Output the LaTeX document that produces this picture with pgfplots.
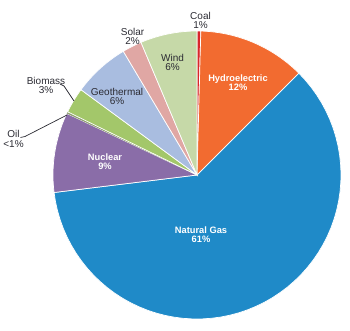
\documentclass[border=0pt]{standalone}
\usepackage{pgfplots}
\pgfplotsset{compat=1.18}
\usepackage{fontspec}
\setmainfont{Liberation Sans}
\definecolor{cCoal}{HTML}{D9262B}
\definecolor{cHydro}{HTML}{F26B30}
\definecolor{cGas}{HTML}{1F8AC8}
\definecolor{cNuc}{HTML}{8A6DA8}
\definecolor{cOil}{HTML}{8FA070}
\definecolor{cBio}{HTML}{A3C76A}
\definecolor{cGeo}{HTML}{A9BDE0}
\definecolor{cSol}{HTML}{E0A7A4}
\definecolor{cWind}{HTML}{C6D9A8}
\definecolor{txt}{HTML}{2B2B33}
% shares in percent, clockwise from 12 o'clock
\def\vCoal{0.42}
\def\vHydro{12.08}
\def\vGas{60.56}
\def\vNuc{8.97}
\def\vOil{0.20}
\def\vBio{2.86}
\def\vGeo{6.36}
\def\vSol{2.19}
\def\vWind{6.36}
\begin{document}
\begin{tikzpicture}[
  lbl/.style={font=\fontsize{10}{9.3}\selectfont, align=center, text=txt},
  wlbl/.style={font=\bfseries\fontsize{9.3}{9.3}\selectfont, align=center, text=white},
]
\pgfmathsetmacro\aA{90}
\pgfmathsetmacro\aB{\aA-3.6*\vCoal}
\pgfmathsetmacro\aC{\aB-3.6*\vHydro}
\pgfmathsetmacro\aD{\aC-3.6*\vGas}
\pgfmathsetmacro\aE{\aD-3.6*\vNuc}
\pgfmathsetmacro\aF{\aE-3.6*\vOil}
\pgfmathsetmacro\aG{\aF-3.6*\vBio}
\pgfmathsetmacro\aH{\aG-3.6*\vGeo}
\pgfmathsetmacro\aI{\aH-3.6*\vSol}
\pgfmathsetmacro\aJ{\aI-3.6*\vWind}
\begin{axis}[
  hide axis, x=1pt, y=1pt,
  xmin=-197, xmax=153, ymin=-155, ymax=175,
  clip=false,
  every axis plot/.append style={draw=white, line width=0.7pt, samples=60, variable=\t},
]
\path (axis cs:-197,-155) rectangle (axis cs:153,175);
\addplot[fill=cCoal, domain=\aB:\aA] ({144*cos(\t)},{144*sin(\t)}) -- (axis cs:0,0) -- cycle;
\addplot[fill=cHydro, domain=\aC:\aB] ({144*cos(\t)},{144*sin(\t)}) -- (axis cs:0,0) -- cycle;
\addplot[fill=cGas, domain=\aD:\aC] ({144*cos(\t)},{144*sin(\t)}) -- (axis cs:0,0) -- cycle;
\addplot[fill=cNuc, domain=\aE:\aD] ({144*cos(\t)},{144*sin(\t)}) -- (axis cs:0,0) -- cycle;
\addplot[fill=cOil, draw=none, domain=\aF:\aE] ({144*cos(\t)},{144*sin(\t)}) -- (axis cs:0,0) -- cycle;
\addplot[fill=cBio, domain=\aG:\aF] ({144*cos(\t)},{144*sin(\t)}) -- (axis cs:0,0) -- cycle;
\addplot[fill=cGeo, domain=\aH:\aG] ({144*cos(\t)},{144*sin(\t)}) -- (axis cs:0,0) -- cycle;
\addplot[fill=cSol, domain=\aI:\aH] ({144*cos(\t)},{144*sin(\t)}) -- (axis cs:0,0) -- cycle;
\addplot[fill=cWind, domain=\aJ:\aI] ({144*cos(\t)},{144*sin(\t)}) -- (axis cs:0,0) -- cycle;
% labels
\node[lbl] at (axis cs:3.5,154.5) {Coal\\1\%};
\node[lbl] at (axis cs:-64.5,138.5) {Solar\\2\%};
\node[lbl] at (axis cs:-24.5,112.5) {Wind\\6\%};
\node[wlbl] at (axis cs:41,92.5) {Hydroelectric\\12\%};
\node[lbl] at (axis cs:-80,78.5) {Geothermal\\6\%};
\node[lbl] at (axis cs:-151,89.5) {Biomass\\3\%};
\node[lbl] at (axis cs:-183.5,36) {Oil\\<1\%};
\node[wlbl] at (axis cs:-92,13.5) {Nuclear\\9\%};
\node[wlbl] at (axis cs:4,-59.5) {Natural Gas\\61\%};
\draw[txt, line width=0.7pt] (axis cs:-137,91) -- (axis cs:-133,89) -- (axis cs:-123,74);
\draw[txt, line width=0.7pt] (axis cs:-176.5,37.5) -- (axis cs:-172,38.5) -- (axis cs:-130,60);
\end{axis}
\end{tikzpicture}
\end{document}
